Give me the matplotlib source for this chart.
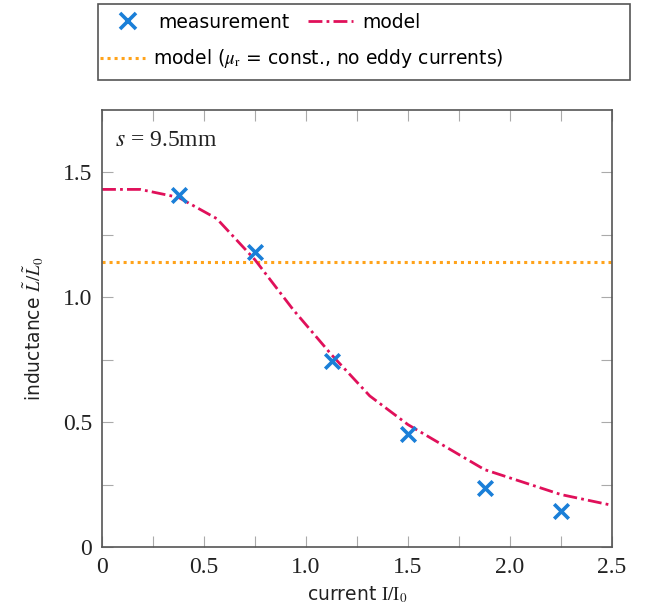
import matplotlib
matplotlib.use("Agg")
import matplotlib.pyplot as plt
from matplotlib.lines import Line2D
from matplotlib.patches import Rectangle
import numpy as np

# measured points
meas_x = [0.375, 0.75, 1.125, 1.5, 1.875, 2.25]
meas_y = [1.408, 1.18, 0.746, 0.453, 0.237, 0.144]

# model curve
model_x = [0.0, 0.1875, 0.375, 0.5625, 0.75, 0.9375, 1.125, 1.3125, 1.5,
           1.6875, 1.875, 2.0625, 2.25, 2.5]
model_y = [1.432, 1.432, 1.40, 1.315, 1.15, 0.95, 0.77, 0.605, 0.49,
           0.40, 0.31, 0.26, 0.21, 0.167]

# constant permeability model
const_level = 1.143

blue = "#1a7fd8"
red = "#e0105a"
orange = "#ffa31a"
grey = "#555555"

plt.rcParams["mathtext.fontset"] = "stix"
sans = "DejaVu Sans"
serif = "Liberation Serif"

fig = plt.figure(figsize=(6.47, 6.14), dpi=100)
ax = fig.add_axes([102 / 647, 1 - 547 / 614, 510 / 647, 437 / 614])

ax.axhline(const_level, color=orange, lw=2.2, ls=(0, (1, 1.3)))
ax.plot(model_x, model_y, color=red, lw=2.0, ls=(0, (5, 1.5, 1, 1.5)))
ax.scatter(meas_x, meas_y, marker="x", s=110, color=blue, linewidths=2.6,
           zorder=5)

ax.set_xlim(0, 2.5)
ax.set_ylim(0, 1.75)
ax.set_xticks([0, 0.5, 1.0, 1.5, 2.0, 2.5])
ax.set_xticklabels(["0", "0.5", "1.0", "1.5", "2.0", "2.5"])
ax.set_yticks([0, 0.5, 1.0, 1.5])
ax.set_yticklabels(["0", "0.5", "1.0", "1.5"])
ax.set_xticks(np.arange(0.25, 2.5, 0.5), minor=True)
ax.set_yticks([0.25, 0.75, 1.25], minor=True)
ax.tick_params(which="both", direction="in", top=True, right=True,
               length=8, width=0.8, color="#aaaaaa", labelsize=17,
               labelcolor="#222222", pad=7)
for lab in ax.get_xticklabels() + ax.get_yticklabels():
    lab.set_family(serif)
for sp in ax.spines.values():
    sp.set_color(grey)
    sp.set_linewidth(1.2)

ax.set_xlabel(r"current $\mathrm{I}/\mathrm{I}_0$", family=sans, fontsize=13.5,
              color="#222222", labelpad=5)
ax.set_ylabel(r"inductance $\tilde{L}/\tilde{L}_0$", family=sans,
              fontsize=13.5, color="#222222", labelpad=12)
ax.text(0.025, 0.955, r"$s$ = 9.5mm", transform=ax.transAxes, family=serif,
        fontsize=17, va="top", ha="left", color="#222222")

# legend box above the axes
h_meas = Line2D([], [], ls="none", marker="x", color=blue, markersize=11,
                markeredgewidth=2.6)
h_model = Line2D([], [], color=red, lw=2.0, ls=(0, (5, 1.5, 1, 1.5)))
h_const = Line2D([], [], color=orange, lw=2.2, ls=(0, (1, 1.3)))
leg1 = fig.legend([h_meas, h_model], ["measurement", "model"], ncol=2,
                  loc="center left", bbox_to_anchor=(105 / 647, 1 - 22 / 614),
                  frameon=False, prop={"family": sans, "size": 13.5},
                  handlelength=2.4, handletextpad=0.45, columnspacing=1.0,
                  borderaxespad=0, borderpad=0)
leg2 = fig.legend([h_const],
                  [r"model ($\mu_\mathrm{r}$ = const., no eddy currents)"],
                  loc="center left", bbox_to_anchor=(100 / 647, 1 - 59 / 614),
                  frameon=False, prop={"family": sans, "size": 13.5},
                  handlelength=2.4, handletextpad=0.45,
                  borderaxespad=0, borderpad=0)
fig.add_artist(Rectangle((98 / 647, 1 - 80 / 614), 532 / 647, 76 / 614,
                         transform=fig.transFigure, fill=False,
                         edgecolor=grey, lw=1.2))

fig.savefig("out.png", dpi=100)
